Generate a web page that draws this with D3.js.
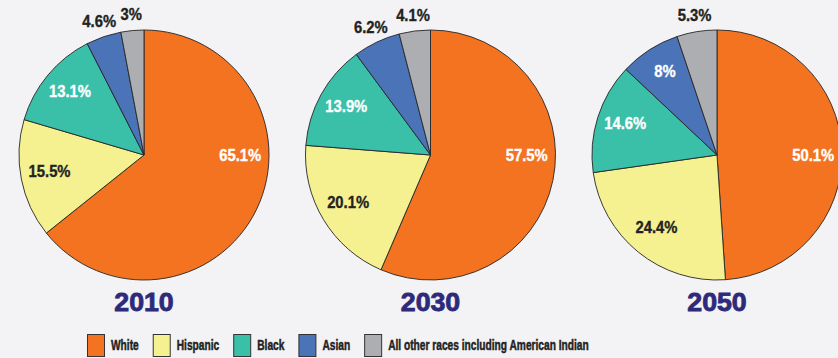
<!DOCTYPE html>
<html>
<head>
<meta charset="utf-8">
<script src="https://cdn.jsdelivr.net/npm/d3@7"></script>
<style>
    html, body { margin: 0; padding: 0; background: #f3f2f4; }
    svg { display: block; }
    text { font-family: "Liberation Sans", Arial, Helvetica, sans-serif; font-weight: bold; }
</style>
</head>
<body>
<div id="chart"></div>
<script>
/*global d3*/

var years = ["2010", "2030", "2050"];
var races = ["White", "Hispanic", "Black", "Asian", "All other races including American Indian"];
var share2010 = [65.1, 15.5, 13.1, 4.6, 3];
var share2030 = [57.5, 20.1, 13.9, 6.2, 4.1];
var share2050 = [50.1, 24.4, 14.6, 8, 5.3];
var raceColors = ["#f47321", "#f5f191", "#3abfa9", "#4a73b8", "#adaeb2"];
var darkLabel = [false, true, false, false, true]; // label colour inside the slice

(function () {
    "use strict";

    var width = 838,
        height = 358,
        radius = 125,
        cy = 155,
        shares = [share2010, share2030, share2050];

    var svg = d3.select("#chart").append("svg")
        .attr("width", width)
        .attr("height", height);

    svg.append("rect")
        .attr("width", width)
        .attr("height", height)
        .attr("fill", "#f3f2f4");

    var x = d3.scalePoint().domain(years).range([144, 717]);
    var color = d3.scaleOrdinal().domain(races).range(raceColors);

    // slices start at 12 o'clock and run clockwise, d3.pie normalises the sums
    var pie = d3.pie().sort(null).value(function (d) { return d.value; });
    var arc = d3.arc().innerRadius(0).outerRadius(radius);
    var innerLabel = d3.arc().innerRadius(radius * 0.77).outerRadius(radius * 0.77);
    var outerLabel = d3.arc().innerRadius(radius * 1.11).outerRadius(radius * 1.11);

    years.forEach(function (year, i) {
        var data = races.map(function (r, j) { return {race: r, value: shares[i][j], idx: j}; });
        var total = d3.sum(data, function (d) { return d.value; });
        var g = svg.append("g").attr("transform", "translate(" + x(year) + "," + cy + ")");
        var slices = pie(data);

        g.selectAll("path")
            .data(slices)
            .enter().append("path")
            .attr("d", arc)
            .attr("fill", function (d) { return color(d.data.race); })
            .attr("stroke", "#262626")
            .attr("stroke-width", 0.9)
            .attr("stroke-linejoin", "round");

        g.selectAll("text.pct")
            .data(slices)
            .enter().append("text")
            .attr("class", "pct")
            .attr("transform", function (d) {
                var p,
                    small = d.data.value / total < 0.07;
                if (d.index === 0) {
                    // biggest slice: label sits at 3 o'clock
                    p = innerLabel.centroid({startAngle: Math.PI / 2, endAngle: Math.PI / 2});
                } else if (small) {
                    p = outerLabel.centroid(d);
                } else {
                    p = innerLabel.centroid(d);
                }
                return "translate(" + p[0] + "," + p[1] + ") scale(0.87,1)";
            })
            .attr("text-anchor", "middle")
            .attr("dy", function (d) { return d.index === 0 ? "0.36em" : "0.2em"; })
            .attr("font-size", 17)
            .attr("fill", function (d) {
                var small = d.data.value / total < 0.07;
                return (small || darkLabel[d.data.idx]) ? "#222" : "#fff";
            })
            .attr("stroke", function (d) {
                var small = d.data.value / total < 0.07;
                return (small || darkLabel[d.data.idx]) ? "#222" : "#fff";
            })
            .attr("stroke-width", 0.35)
            .text(function (d) { return d.data.value + "%"; });

        svg.append("text")
            .attr("transform", "translate(" + x(year) + ",311) scale(1.07,1)")
            .attr("text-anchor", "middle")
            .attr("font-size", 25)
            .attr("fill", "#2e2a7a")
            .attr("stroke", "#2e2a7a")
            .attr("stroke-width", 0.8)
            .text(year);
    });

    // legend, laid out from the measured text widths
    var legend = svg.append("g").attr("transform", "translate(87,334)");
    var lx = 0;
    races.forEach(function (r) {
        var item = legend.append("g").attr("transform", "translate(" + lx + ",0)");
        item.append("rect")
            .attr("x", 0.5)
            .attr("y", 0.5)
            .attr("width", 17)
            .attr("height", 22)
            .attr("fill", color(r))
            .attr("stroke", "#333")
            .attr("stroke-width", 1);
        var t = item.append("text")
            .attr("transform", "translate(24,15.5) scale(0.68,1)")
            .attr("font-size", 15)
            .attr("fill", "#222")
            .attr("stroke", "#222")
            .attr("stroke-width", 0.5)
            .text(r);
        lx += 24 + t.node().getComputedTextLength() * 0.68 + 14;
    });
}());
</script>
</body>
</html>
